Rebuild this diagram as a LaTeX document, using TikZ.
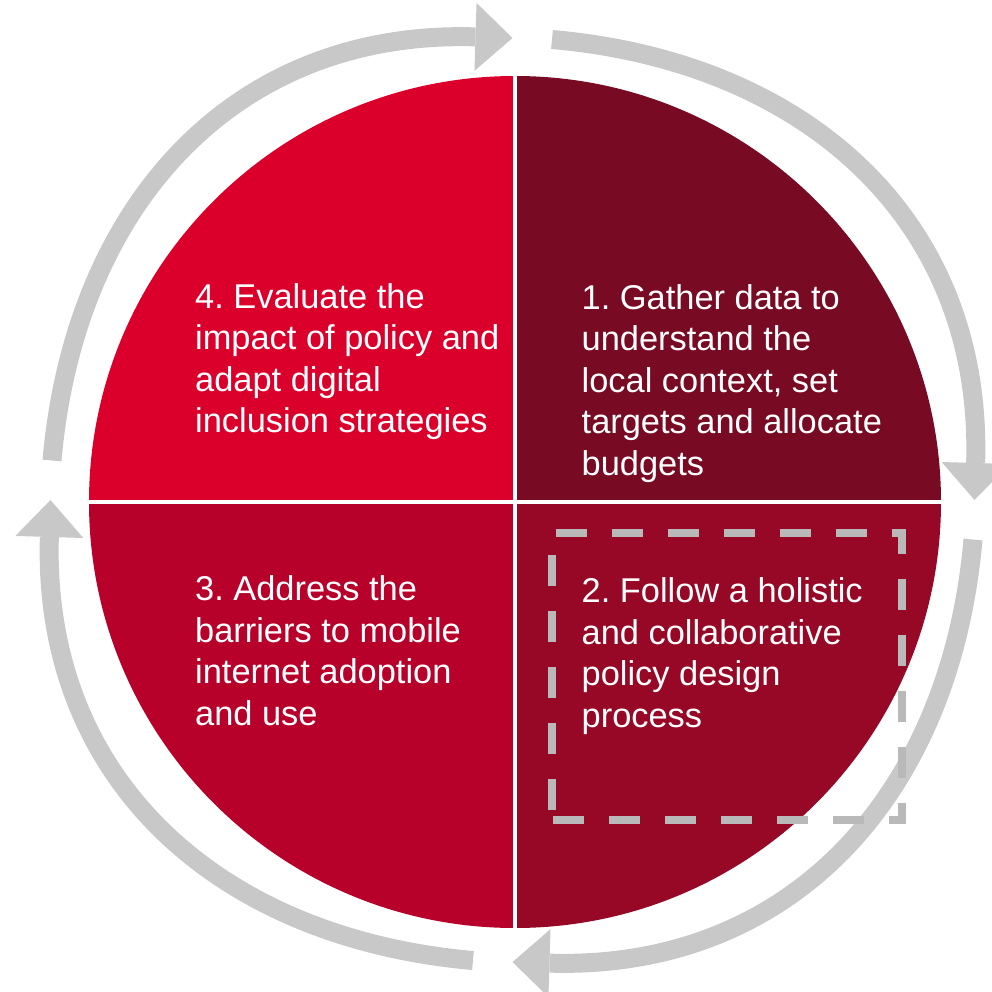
\documentclass[tikz,border=0pt]{standalone}
\usepackage{fontspec}
\setmainfont{Liberation Sans}
\usetikzlibrary{arrows.meta}
\definecolor{stepone}{HTML}{780A23}
\definecolor{steptwo}{HTML}{970726}
\definecolor{stepthree}{HTML}{B7002A}
\definecolor{stepfour}{HTML}{DB002B}
\definecolor{cyclegray}{HTML}{C8C8C8}
\definecolor{boxgray}{HTML}{B9B9B9}
\frenchspacing
\begin{document}
\begin{tikzpicture}[x=1pt,y=1pt,
  cyclearrow/.style={draw=cyclegray, line width=19pt, line cap=butt,
    -{Triangle[width=68pt,length=37pt,line width=0pt]}},
  steptext/.style={anchor=base west, inner sep=0pt, text=white,
    font=\fontsize{34.4}{41.5}\selectfont},
  divider/.style={draw=white, line width=4pt},
  focusbox/.style={draw=boxgray, line width=7.5pt, line cap=butt,
    line join=miter}]
\useasboundingbox (-512.5,-491) rectangle (479.5,500);

% four quadrants of the cycle
\coordinate (c) at (2.5,-2);
\fill[stepone]   (c) -- ++(0,426)   arc[start angle=90,  end angle=0,   radius=426] -- cycle;
\fill[steptwo]   (c) -- ++(426,0)   arc[start angle=0,   end angle=-90, radius=426] -- cycle;
\fill[stepthree] (c) -- ++(0,-426)  arc[start angle=-90, end angle=-180,radius=426] -- cycle;
\fill[stepfour]  (c) -- ++(-426,0)  arc[start angle=180, end angle=90,  radius=426] -- cycle;

% white gaps between the quadrants
\coordinate (vt) at (2,425);
\coordinate (vb) at (2,-429);
\coordinate (hl) at (-425,-1.5);
\coordinate (hr) at (429,-1.5);
\draw[divider] (vt) -- (vb);
\draw[divider] (hl) -- (hr);

% clockwise arrows around the cycle
\foreach \r in {0,-90,-180,-270}{
  \begin{scope}[rotate=\r]
    \draw[cyclearrow] (39.5,460.5) .. controls (293.5,438.3) and (470.5,280) .. (462,0);
  \end{scope}
}

% dashed frame around step 2
\coordinate (btl) at (39.5,-33);
\coordinate (btr) at (389.5,-33);
\coordinate (bbr) at (389.5,-320);
\coordinate (bbl) at (39.5,-320);
\draw[focusbox, dash pattern=on 31pt off 25pt, dash phase=52.5pt]
  (btl) -- (btr) -- (bbr) -- (bbl);
\draw[focusbox, dash pattern=on 31pt off 25pt, dash phase=46pt]
  (bbl) -- (btl);

% step labels
\node[steptext] (s1) at (69,191) {\parbox[t]{400pt}{1. Gather data to\\understand the\\local context, set\\targets and allocate\\budgets}};
\node[steptext] (s2) at (69,-102.7) {\parbox[t]{400pt}{2. Follow a holistic\\and collaborative\\policy design\\process}};
\node[steptext] (s3) at (-317.5,-100.7) {\parbox[t]{400pt}{3. Address the\\barriers to mobile\\internet adoption\\and use}};
\node[steptext] (s4) at (-317.5,191.7) {\parbox[t]{400pt}{4. Evaluate the\\impact of policy and\\adapt digital\\inclusion strategies}};
\end{tikzpicture}
\end{document}
